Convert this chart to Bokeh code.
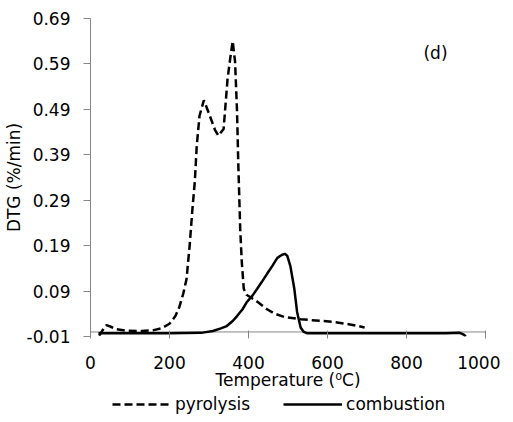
from bokeh.plotting import figure
from bokeh.models import Range1d, FixedTicker, Span, Legend, LegendItem, Label
from bokeh.layouts import column
from bokeh.embed import file_html
from bokeh.resources import INLINE

# ---- data ----
pyro_T = [22, 30, 40, 50, 65, 90, 130, 160, 180, 200, 215, 225, 235, 243, 251, 258, 264, 269, 276,
          287, 302, 315, 324, 337, 347, 356, 360, 366, 371, 374, 379, 383, 388, 395, 404, 425, 447,
          467, 490, 532, 617, 660, 694]
pyro_v = [-0.008, 0.003, 0.015, 0.012, 0.006, 0.003, 0.002, 0.004, 0.008, 0.018, 0.035, 0.055, 0.085,
          0.116, 0.19, 0.27, 0.33, 0.41, 0.476, 0.51, 0.476, 0.445, 0.432, 0.447, 0.557, 0.617, 0.64,
          0.595, 0.485, 0.375, 0.227, 0.154, 0.095, 0.082, 0.077, 0.065, 0.05, 0.04, 0.033, 0.028,
          0.022, 0.016, 0.01]

comb_T = [20, 100, 200, 280, 310, 330, 345, 360, 371, 385, 396, 410, 422, 435, 447, 460, 473, 485,
          492, 498, 506, 511, 516, 523, 532, 540, 549, 600, 700, 800, 900, 935, 945, 950]
comb_v = [-0.003, -0.003, -0.003, -0.002, 0.002, 0.008, 0.013, 0.024, 0.035, 0.05, 0.066, 0.08, 0.095,
          0.112, 0.128, 0.145, 0.163, 0.17, 0.172, 0.168, 0.145, 0.12, 0.095, 0.044, 0.01, 0.0, -0.003,
          -0.003, -0.003, -0.003, -0.003, -0.002, -0.006, -0.01]

series_names = ["pyrolysis", "combustion"]
y_ticks = [-0.01, 0.09, 0.19, 0.29, 0.39, 0.49, 0.59, 0.69]
y_labels = ["-0.01", "0.09", "0.19", "0.29", "0.39", "0.49", "0.59", "0.69"]
x_ticks = [0, 200, 400, 600, 800, 1000]

FONT = "DejaVu Sans"
FS = "17px"
AXC = "#868686"
W = 500

p = figure(width=W, height=392, output_backend="svg", toolbar_location=None,
           x_range=Range1d(0, 1000), y_range=Range1d(-0.01, 0.69),
           min_border_left=88, min_border_top=18, min_border_right=15, min_border_bottom=56)
p.outline_line_color = None
p.xgrid.grid_line_color = None
p.ygrid.grid_line_color = None

# y axis
ya = p.yaxis[0]
ya.ticker = FixedTicker(ticks=y_ticks)
ya.major_label_overrides = {t: l for t, l in zip(y_ticks, y_labels)}
ya.axis_line_color = AXC
ya.major_tick_line_color = AXC
ya.major_tick_in = 0
ya.major_tick_out = 7
ya.minor_tick_line_color = None
ya.major_label_standoff = 13
ya.major_label_text_font = FONT
ya.major_label_text_font_size = FS
ya.major_label_text_color = "black"
ya.axis_label = "DTG (%/min)"
ya.axis_label_text_font = FONT
ya.axis_label_text_font_size = FS
ya.axis_label_text_font_style = "normal"
ya.axis_label_text_color = "black"
ya.axis_label_standoff = 0

# x axis (its line is drawn at y=0 with a span)
xa = p.xaxis[0]
xa.ticker = FixedTicker(ticks=x_ticks)
xa.axis_line_color = None
xa.major_tick_line_color = AXC
xa.major_tick_in = 6
xa.major_tick_out = 2
xa.minor_tick_line_color = None
xa.major_label_standoff = 17
xa.major_label_text_font = FONT
xa.major_label_text_font_size = FS
xa.major_label_text_color = "black"
xa.axis_label = "Temperature (\u2070C)"
xa.axis_label_text_font = FONT
xa.axis_label_text_font_size = FS
xa.axis_label_text_font_style = "normal"
xa.axis_label_text_color = "black"
xa.axis_label_standoff = -2

p.add_layout(Span(location=0, dimension="width", line_color=AXC, line_width=1, level="underlay"))

p.line(pyro_T, pyro_v, line_color="black", line_width=2.5, line_dash="8 4")
p.line(comb_T, comb_v, line_color="black", line_width=2.5)

p.add_layout(Label(x=843, y=0.615, text="(d)", text_font=FONT, text_font_size=FS,
                   text_color="black", text_baseline="middle"))

# legend strip below the chart (its frame is aligned with the chart's frame)
q = figure(width=W, height=22, output_backend="svg", toolbar_location=None,
           x_axis_type=None, y_axis_type=None,
           x_range=Range1d(-2000, -1000), y_range=Range1d(0, 1),
           min_border_left=0, min_border_right=0, min_border_top=0, min_border_bottom=0)
q.outline_line_color = None
k1 = q.line(pyro_T, pyro_v, line_color="black", line_width=2.5, line_dash="8 4")
k2 = q.line(comb_T, comb_v, line_color="black", line_width=2.5)
legend = Legend(items=[LegendItem(label=series_names[0], renderers=[k1]),
                       LegendItem(label=series_names[1], renderers=[k2])],
                orientation="horizontal", location=(22, 0),
                label_text_font=FONT, label_text_font_size=FS, label_text_color="black",
                glyph_width=59, glyph_height=20, label_standoff=4, spacing=33,
                padding=0, margin=0, border_line_color=None, background_fill_alpha=0)
q.add_layout(legend, "center")

open("out.html", "w").write(file_html(column(p, q, spacing=0), INLINE))
